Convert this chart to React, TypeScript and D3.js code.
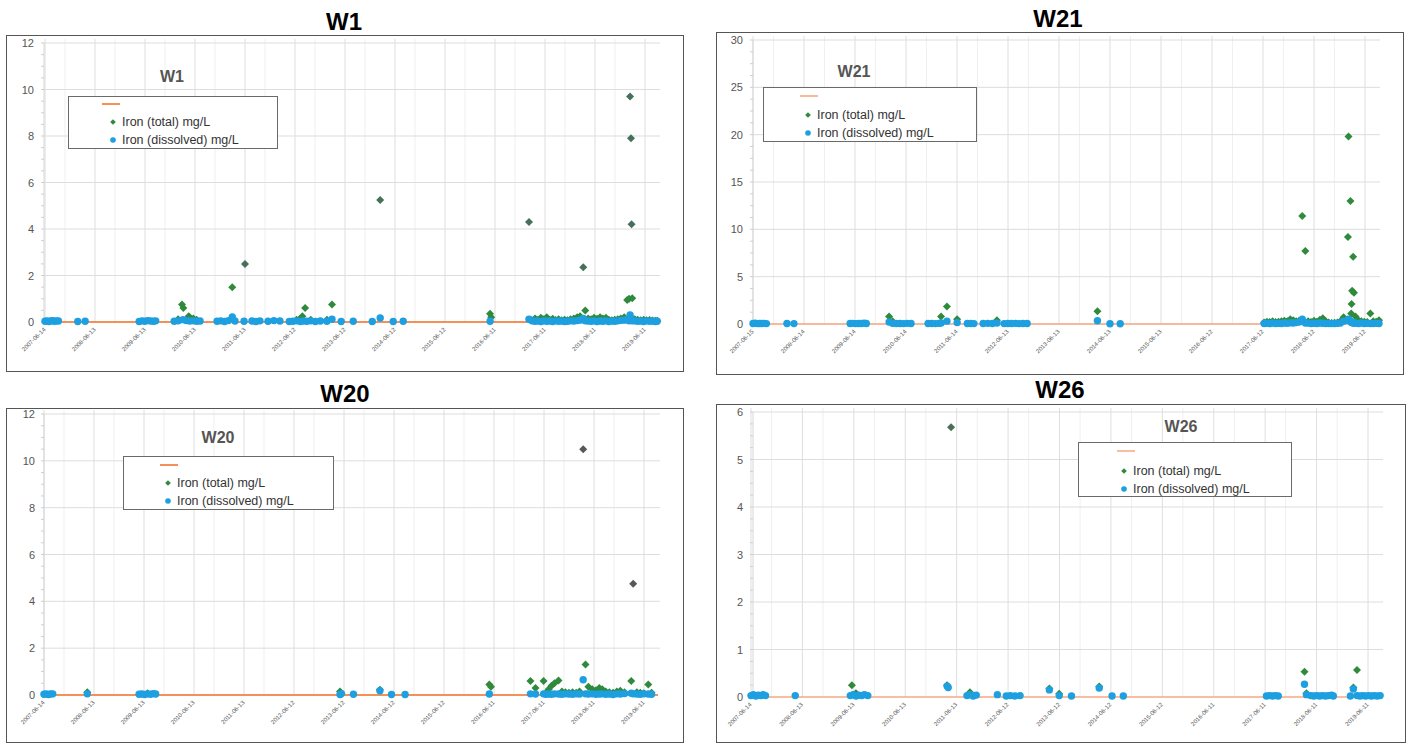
import React from "react";
import * as d3 from "d3";

type Pt = [string, number];

// ---------- tick labels ----------
const ticksA = ["2007-06-14","2008-06-13","2009-06-13","2010-06-13","2011-06-13","2012-06-12","2013-06-12","2014-06-12","2015-06-12","2016-06-11","2017-06-11","2018-06-11","2019-06-11"];
const ticksB = ["2007-06-15","2008-06-14","2009-06-14","2010-06-14","2011-06-14","2012-06-13","2013-06-13","2014-06-13","2015-06-13","2016-06-12","2017-06-12","2018-06-12","2019-06-12"];
const yTicksW1 = [0, 2, 4, 6, 8, 10, 12];
const yTicksW21 = [0, 5, 10, 15, 20, 25, 30];
const yTicksW20 = [0, 2, 4, 6, 8, 10, 12];
const yTicksW26 = [0, 1, 2, 3, 4, 5, 6];
const seriesNames = ["Iron (total) mg/L", "Iron (dissolved) mg/L"];

// ---------- W1 ----------
const w1Dissolved: Pt[] = [
  ["2007-06-14",0.03],["2007-06-28",0.05],["2007-07-12",0.02],["2007-07-26",0.04],["2007-08-09",0.06],["2007-08-23",0.03],["2007-09-06",0.05],["2007-09-20",0.04],
  ["2008-02-08",0.02],["2008-04-02",0.03],
  ["2009-05-01",0.02],["2009-05-22",0.05],["2009-06-12",0.03],["2009-07-03",0.06],["2009-07-24",0.04],["2009-08-14",0.03],["2009-08-30",0.05],
  ["2010-01-12",0.03],["2010-02-10",0.05],["2010-03-17",0.1],["2010-04-10",0.06],["2010-05-05",0.04],["2010-06-01",0.05],["2010-06-25",0.03],["2010-07-20",0.04],
  ["2010-11-21",0.03],["2010-12-18",0.05],["2011-01-15",0.02],["2011-02-12",0.06],["2011-03-12",0.22],["2011-04-01",0.04],["2011-06-06",0.03],
  ["2011-08-03",0.04],["2011-09-01",0.02],["2011-09-30",0.05],["2011-11-28",0.03],["2012-01-10",0.06],["2012-02-23",0.04],
  ["2012-05-01",0.02],["2012-05-28",0.03],["2012-06-24",0.05],["2012-07-21",0.02],["2012-08-12",0.04],["2012-09-07",0.03],["2012-10-05",0.05],["2012-11-08",0.02],["2012-12-14",0.04],
  ["2013-01-31",0.03],["2013-03-09",0.12],["2013-05-15",0.02],["2013-08-11",0.03],["2013-12-28",0.02],["2014-02-24",0.17],["2014-05-30",0.02],["2014-08-11",0.03],
  ["2016-05-06",0.03],
  ["2017-02-14",0.12],["2017-03-08",0.05],["2017-03-30",0.03],["2017-04-20",0.04],["2017-05-12",0.02],["2017-06-02",0.05],["2017-06-24",0.03],["2017-07-15",0.04],
  ["2017-08-06",0.02],["2017-08-28",0.05],["2017-09-18",0.03],["2017-10-10",0.04],["2017-11-01",0.02],["2017-11-22",0.03],["2017-12-14",0.05],["2018-01-08",0.04],
  ["2018-02-01",0.06],["2018-02-22",0.08],["2018-03-17",0.15],["2018-04-01",0.05],["2018-04-22",0.04],["2018-05-14",0.03],["2018-06-04",0.05],["2018-06-26",0.02],
  ["2018-07-18",0.04],["2018-08-08",0.03],["2018-08-30",0.05],["2018-09-20",0.02],["2018-10-12",0.04],["2018-11-02",0.03],["2018-11-24",0.05],["2018-12-16",0.07],
  ["2019-01-10",0.08],["2019-02-01",0.1],["2019-02-15",0.05],["2019-02-22",0.3],["2019-03-01",0.15],["2019-03-10",0.05],["2019-03-28",0.05],["2019-04-18",0.03],
  ["2019-05-10",0.04],["2019-06-01",0.02],["2019-06-22",0.05],["2019-07-14",0.03],["2019-08-04",0.04],["2019-08-25",0.02],["2019-09-08",0.03],
];
const w1Total: Pt[] = [
  ["2010-02-10",0.12],["2010-03-10",0.75],["2010-03-20",0.6],["2010-04-28",0.25],["2010-05-05",0.2],["2010-06-01",0.15],["2010-06-25",0.1],
  ["2011-03-12",1.5],["2011-06-13",2.5],["2012-06-24",0.1],["2012-07-21",0.15],["2012-08-05",0.25],["2012-08-25",0.6],["2012-10-05",0.1],
  ["2013-01-31",0.1],["2013-03-09",0.75],["2014-02-24",5.25],["2016-05-06",0.35],["2016-05-14",0.2],
  ["2017-02-14",4.3],["2017-03-08",0.08],["2017-03-30",0.15],["2017-04-20",0.1],["2017-05-12",0.18],["2017-06-02",0.12],["2017-06-24",0.2],["2017-07-15",0.1],
  ["2017-08-06",0.14],["2017-08-28",0.09],["2017-09-18",0.12],["2017-10-10",0.08],["2017-11-01",0.1],["2017-11-22",0.07],["2017-12-14",0.12],["2018-01-08",0.15],
  ["2018-02-01",0.2],["2018-02-22",0.25],["2018-03-17",2.35],["2018-04-01",0.5],["2018-04-22",0.15],["2018-05-14",0.12],["2018-06-04",0.18],["2018-06-26",0.14],
  ["2018-07-18",0.2],["2018-08-08",0.15],["2018-08-30",0.18],["2018-09-20",0.1],["2018-10-12",0.08],["2018-11-02",0.1],["2018-11-24",0.12],["2018-12-16",0.15],
  ["2019-01-10",0.2],["2019-02-01",0.95],["2019-02-15",1.0],["2019-02-22",9.7],["2019-03-01",7.9],["2019-03-05",4.2],["2019-03-10",1.02],["2019-03-28",0.12],
  ["2019-04-18",0.1],["2019-05-10",0.08],["2019-06-01",0.1],["2019-06-22",0.07],["2019-07-14",0.09],["2019-08-04",0.06],["2019-08-25",0.05],["2019-09-08",0.05],
];

// ---------- W21 ----------
const w21Dissolved: Pt[] = [
  ["2007-06-15",0.05],["2007-07-01",0.08],["2007-07-17",0.04],["2007-08-02",0.06],["2007-08-18",0.05],["2007-09-03",0.07],["2007-09-19",0.04],
  ["2008-02-13",0.05],["2008-04-03",0.04],
  ["2009-05-10",0.05],["2009-05-30",0.07],["2009-06-19",0.04],["2009-07-09",0.06],["2009-07-29",0.05],["2009-08-18",0.08],["2009-09-03",0.05],
  ["2010-02-13",0.2],["2010-03-10",0.08],["2010-04-05",0.05],["2010-05-01",0.06],["2010-05-27",0.04],["2010-06-22",0.07],["2010-07-20",0.05],
  ["2010-11-19",0.05],["2010-12-15",0.06],["2011-01-10",0.04],["2011-02-05",0.07],["2011-02-20",0.1],["2011-04-03",0.3],["2011-06-15",0.15],
  ["2011-08-27",0.05],["2011-09-20",0.06],["2011-10-13",0.04],["2011-12-18",0.05],["2012-01-20",0.07],["2012-02-22",0.05],["2012-03-26",0.1],
  ["2012-05-16",0.04],["2012-06-12",0.06],["2012-07-08",0.05],["2012-08-04",0.07],["2012-08-31",0.04],["2012-09-28",0.06],["2012-10-28",0.05],
  ["2014-03-15",0.35],["2014-06-13",0.02],["2014-08-25",0.02],
  ["2017-06-20",0.05],["2017-07-10",0.08],["2017-07-30",0.05],["2017-08-20",0.1],["2017-09-10",0.06],["2017-10-01",0.08],["2017-10-22",0.05],["2017-11-12",0.1],
  ["2017-12-03",0.08],["2017-12-24",0.12],["2018-01-14",0.1],["2018-02-04",0.15],["2018-02-25",0.2],["2018-03-20",0.5],["2018-04-11",0.1],["2018-05-01",0.1],
  ["2018-05-22",0.05],["2018-06-12",0.08],["2018-07-03",0.05],["2018-07-24",0.1],["2018-08-14",0.08],["2018-09-04",0.05],["2018-09-25",0.04],["2018-10-16",0.06],
  ["2018-11-06",0.05],["2018-11-27",0.07],["2018-12-18",0.1],["2019-01-10",0.3],["2019-02-10",0.4],["2019-02-14",0.5],["2019-02-28",0.3],["2019-03-05",0.2],
  ["2019-03-08",0.15],["2019-03-12",0.2],["2019-03-19",0.1],["2019-03-25",0.1],["2019-04-05",0.08],["2019-04-26",0.05],["2019-05-17",0.1],["2019-06-07",0.05],
  ["2019-06-28",0.08],["2019-07-20",0.06],["2019-08-10",0.05],["2019-08-31",0.07],["2019-09-20",0.05],
];
const w21Total: Pt[] = [
  ["2010-02-13",0.8],["2010-03-10",0.3],["2011-02-20",0.8],["2011-04-03",1.85],["2011-06-15",0.5],["2012-03-26",0.4],["2014-03-15",1.35],
  ["2017-06-20",0.15],["2017-07-10",0.25],["2017-07-30",0.2],["2017-08-20",0.3],["2017-09-10",0.2],["2017-10-01",0.25],["2017-10-22",0.3],["2017-11-12",0.35],
  ["2017-12-03",0.3],["2017-12-24",0.5],["2018-01-14",0.4],["2018-02-04",0.3],["2018-02-25",0.35],["2018-03-20",11.4],["2018-04-11",7.7],["2018-05-01",0.3],
  ["2018-05-22",0.2],["2018-06-12",0.35],["2018-07-03",0.25],["2018-07-24",0.45],["2018-08-14",0.6],["2018-09-04",0.3],["2018-09-25",0.15],["2018-10-16",0.1],
  ["2018-11-06",0.12],["2018-11-27",0.15],["2018-12-18",0.3],["2019-01-10",0.7],["2019-02-10",9.2],["2019-02-14",19.8],["2019-02-28",13.0],["2019-03-05",1.1],
  ["2019-03-08",2.1],["2019-03-12",3.5],["2019-03-19",7.1],["2019-03-25",3.3],["2019-04-05",0.8],["2019-04-26",0.4],["2019-05-17",0.3],["2019-06-07",0.25],
  ["2019-06-28",0.2],["2019-07-20",1.1],["2019-08-10",0.3],["2019-08-31",0.25],["2019-09-20",0.4],
];

// ---------- W20 ----------
const w20Dissolved: Pt[] = [
  ["2007-06-14",0.03],["2007-06-30",0.05],["2007-07-16",0.02],["2007-08-01",0.04],["2007-08-17",0.05],
  ["2008-04-25",0.05],
  ["2009-05-08",0.03],["2009-05-28",0.04],["2009-06-18",0.02],["2009-07-09",0.05],["2009-07-30",0.03],["2009-08-20",0.06],["2009-09-06",0.04],
  ["2013-05-14",0.02],["2013-05-24",0.06],["2013-08-20",0.03],["2014-03-01",0.18],["2014-05-25",0.02],["2014-09-01",0.02],["2016-05-08",0.04],
  ["2017-03-04",0.05],["2017-04-10",0.04],["2017-06-08",0.05],["2017-06-25",0.03],["2017-07-15",0.04],["2017-08-05",0.03],["2017-08-26",0.05],["2017-09-25",0.04],
  ["2017-10-20",0.03],["2017-11-15",0.05],["2017-12-10",0.04],["2018-01-05",0.03],["2018-02-01",0.05],["2018-02-25",0.04],["2018-03-24",0.65],["2018-04-10",0.05],
  ["2018-05-01",0.04],["2018-05-29",0.05],["2018-06-25",0.03],["2018-07-20",0.04],["2018-08-10",0.05],["2018-09-05",0.03],["2018-10-01",0.04],["2018-10-28",0.02],
  ["2018-11-25",0.05],["2018-12-20",0.04],["2019-01-20",0.06],["2019-03-10",0.08],["2019-03-24",0.05],["2019-04-20",0.04],["2019-05-15",0.03],["2019-06-10",0.05],
  ["2019-07-12",0.04],["2019-08-05",0.03],
];
const w20Total: Pt[] = [
  ["2008-04-25",0.12],["2009-07-09",0.08],["2013-05-14",0.15],["2013-05-24",0.08],["2014-03-01",0.22],["2016-05-08",0.45],["2016-05-20",0.35],
  ["2017-03-04",0.6],["2017-04-10",0.3],["2017-06-08",0.6],["2017-06-25",0.1],["2017-07-15",0.25],["2017-08-05",0.4],["2017-08-26",0.5],["2017-09-25",0.62],
  ["2017-10-20",0.15],["2017-11-15",0.12],["2017-12-10",0.1],["2018-01-05",0.12],["2018-02-01",0.1],["2018-02-25",0.15],["2018-03-24",10.5],["2018-04-10",1.3],
  ["2018-05-01",0.35],["2018-05-29",0.25],["2018-06-25",0.2],["2018-07-20",0.3],["2018-08-10",0.25],["2018-09-05",0.15],["2018-10-01",0.12],["2018-10-28",0.1],
  ["2018-11-25",0.15],["2018-12-20",0.18],["2019-01-20",0.12],["2019-03-10",0.6],["2019-03-24",4.75],["2019-04-20",0.12],["2019-05-15",0.1],["2019-06-10",0.08],
  ["2019-07-12",0.45],["2019-08-05",0.1],
];

// ---------- W26 ----------
const w26Dissolved: Pt[] = [
  ["2007-06-14",0.03],["2007-07-01",0.05],["2007-07-18",0.02],["2007-08-05",0.04],["2007-08-22",0.03],["2007-09-08",0.05],["2007-09-25",0.03],
  ["2008-04-23",0.03],
  ["2009-05-19",0.03],["2009-06-08",0.05],["2009-06-28",0.02],["2009-07-18",0.04],["2009-08-07",0.03],["2009-08-27",0.05],["2009-09-20",0.03],
  ["2011-04-06",0.23],["2011-04-14",0.2],["2011-08-25",0.03],["2011-09-15",0.05],["2011-10-08",0.02],["2011-10-30",0.04],
  ["2012-03-28",0.05],["2012-05-30",0.02],["2012-06-28",0.03],["2012-07-30",0.02],["2012-09-05",0.03],
  ["2013-04-01",0.15],["2013-06-10",0.03],["2013-09-05",0.02],["2014-03-21",0.19],["2014-06-20",0.02],["2014-09-08",0.02],
  ["2017-06-20",0.02],["2017-07-12",0.03],["2017-08-02",0.02],["2017-08-22",0.03],["2017-09-12",0.02],
  ["2018-03-17",0.27],["2018-03-31",0.05],["2018-05-01",0.03],["2018-05-22",0.02],["2018-06-12",0.03],["2018-07-03",0.02],["2018-07-24",0.03],["2018-08-14",0.02],
  ["2018-09-04",0.03],["2018-09-25",0.04],["2018-10-08",0.02],
  ["2019-02-06",0.02],["2019-02-27",0.17],["2019-03-25",0.03],["2019-04-15",0.02],["2019-05-05",0.03],["2019-05-25",0.02],["2019-06-15",0.03],["2019-07-05",0.02],
  ["2019-07-25",0.03],["2019-08-15",0.02],["2019-09-05",0.03],
];
const w26Total: Pt[] = [
  ["2009-05-30",0.25],["2009-06-28",0.08],["2011-04-06",0.25],["2011-05-04",5.68],["2011-09-15",0.1],["2013-04-01",0.18],["2013-06-10",0.07],["2014-03-21",0.22],
  ["2018-03-17",0.53],["2018-03-31",0.08],["2019-02-27",0.2],["2019-03-25",0.57],
];

// ---------- layout (styles/positions, not data) ----------
interface Cfg {
  title: string; titleX: number; titleY: number;
  frame: [number, number, number, number];
  left: number; right: number; yTop: number; y0: number;
  x0: number; x12: number; yLabelX: number;
  legend: { x: number; y: number; w: number; h: number; tx: number; ty: number; lx: number; ly: number; sx: number; t1: number; t2: number };
  zeroColor: string; hiColor: string; hiThreshold: number;
}

const cfgW1: Cfg = {
  title: "W1", titleX: 344, titleY: 30, frame: [6, 35, 677, 336],
  left: 44, right: 660, yTop: 43, y0: 322, x0: 45, x12: 645, yLabelX: 34,
  legend: { x: 68, y: 96, w: 209, h: 52, tx: 172, ty: 82, lx: 102, ly: 104, sx: 113, t1: 126, t2: 144 },
  zeroColor: "#f26d21", hiColor: "#46705a", hiThreshold: 2.2,
};
const cfgW21: Cfg = {
  title: "W21", titleX: 1058, titleY: 27, frame: [716, 32, 687, 342],
  left: 753, right: 1380, yTop: 40, y0: 324, x0: 753, x12: 1365, yLabelX: 743,
  legend: { x: 763, y: 87, w: 213, h: 54, tx: 854, ty: 77, lx: 800, ly: 96, sx: 808, t1: 119, t2: 137 },
  zeroColor: "#f5a27a", hiColor: "#2e7d3c", hiThreshold: 100,
};
const cfgW20: Cfg = {
  title: "W20", titleX: 345, titleY: 402, frame: [6, 408, 677, 334],
  left: 44, right: 660, yTop: 414, y0: 695, x0: 44, x12: 644, yLabelX: 35,
  legend: { x: 123, y: 456, w: 210, h: 53, tx: 218, ty: 443, lx: 160, ly: 465, sx: 168, t1: 487, t2: 505 },
  zeroColor: "#f26d21", hiColor: "#555a56", hiThreshold: 2.2,
};
const cfgW26: Cfg = {
  title: "W26", titleX: 1060, titleY: 398, frame: [716, 404, 689, 338],
  left: 753, right: 1383, yTop: 412, y0: 697, x0: 751, x12: 1368, yLabelX: 743,
  legend: { x: 1078, y: 442, w: 213, h: 54, tx: 1181, ty: 432, lx: 1117, ly: 451, sx: 1124, t1: 475, t2: 493 },
  zeroColor: "#f7a882", hiColor: "#4a6e56", hiThreshold: 2.2,
};

const GREEN = "#2f8a3c";
const BLUE = "#1d9fe0";
const FONT = "'Liberation Sans', Arial, Helvetica, sans-serif";
const parse = d3.timeParse("%Y-%m-%d");

const diamond = (cx: number, cy: number, r: number) =>
  `M${cx},${cy - r}L${cx + r},${cy}L${cx},${cy + r}L${cx - r},${cy}Z`;

function Panel({ cfg, ticks, yTicks, total, dissolved }: { cfg: Cfg; ticks: string[]; yTicks: number[]; total: Pt[]; dissolved: Pt[] }) {
  const tickDates = ticks.map((t) => parse(t) as Date);
  const x = d3.scaleTime().domain([tickDates[0], tickDates[tickDates.length - 1]]).range([cfg.x0, cfg.x12]);
  const ymax = yTicks[yTicks.length - 1];
  const y = d3.scaleLinear().domain([0, ymax]).range([cfg.y0, cfg.yTop]);
  const step = yTicks[1] - yTicks[0];
  const minor = d3.range(0, ymax + 1e-9, step / 4);
  const [fx, fy, fw, fh] = cfg.frame;
  const L = cfg.legend;
  return (
    <g>
      <text x={cfg.titleX} y={cfg.titleY} textAnchor="middle" fontFamily={FONT} fontWeight="bold" fontSize={24} fill="#000">{cfg.title}</text>
      <rect x={fx + 0.5} y={fy + 0.5} width={fw} height={fh} fill="#fff" stroke="#555" strokeWidth={1} />
      {/* vertical grid */}
      {tickDates.map((d, i) => (
        <line key={"vg" + i} x1={x(d)} x2={x(d)} y1={cfg.yTop - 4} y2={cfg.y0} stroke="#dedede" strokeWidth={1} />
      ))}
      {tickDates.slice(0, -1).map((d, i) => {
        const m = x(d3.timeDay.offset(d, 146));
        return <line key={"vm" + i} x1={m} x2={m} y1={cfg.yTop - 4} y2={cfg.y0} stroke="#efefef" strokeWidth={1} />;
      })}
      {/* horizontal grid */}
      {yTicks.slice(1).map((v) => (
        <line key={"hg" + v} x1={cfg.left} x2={cfg.right} y1={y(v)} y2={y(v)} stroke="#dddddd" strokeWidth={1} />
      ))}
      {/* y axis */}
      <line x1={cfg.left} x2={cfg.left} y1={cfg.yTop} y2={cfg.y0} stroke="#d6d6d6" />
      {minor.map((v, i) => (
        <line key={"mt" + i} x1={cfg.left - 3} x2={cfg.left} y1={y(v)} y2={y(v)} stroke="#cfcfcf" />
      ))}
      {yTicks.map((v) => (
        <text key={"yl" + v} x={cfg.yLabelX} y={y(v) + 4} textAnchor="end" fontFamily={FONT} fontSize={11} fill="#555">{v}</text>
      ))}
      {/* x labels */}
      {tickDates.map((d, i) => (
        <text key={"xl" + i} transform={`translate(${x(d) + 1},${cfg.y0 + 8}) rotate(-45)`} textAnchor="end" fontFamily={FONT} fontSize={6} fill="#555">{ticks[i]}</text>
      ))}
      {/* zero line */}
      <line x1={cfg.left} x2={cfg.right - 2} y1={y(0)} y2={y(0)} stroke={cfg.zeroColor} strokeWidth={1.6} />
      {/* total (green diamonds) */}
      {total.map(([d, v], i) => (
        <path key={"t" + i} d={diamond(x(parse(d) as Date), y(v), 4)} fill={v > cfg.hiThreshold ? cfg.hiColor : GREEN} />
      ))}
      {/* dissolved (blue circles) */}
      {dissolved.map(([d, v], i) => (
        <circle key={"d" + i} cx={x(parse(d) as Date)} cy={y(v)} r={3.7} fill={BLUE} />
      ))}
      {/* legend */}
      <text x={L.tx} y={L.ty} textAnchor="middle" fontFamily={FONT} fontWeight="bold" fontSize={16} fill="#555">{cfg.title}</text>
      <rect x={L.x + 0.5} y={L.y + 0.5} width={L.w} height={L.h} fill="#fff" stroke="#6a6a6a" strokeWidth={1} />
      <line x1={L.lx} x2={L.lx + 18} y1={L.ly} y2={L.ly} stroke={cfg.zeroColor} strokeWidth={1.5} />
      <path d={diamond(L.sx, L.t1 - 4, 2.8)} fill={GREEN} />
      <text x={L.sx + 9} y={L.t1} fontFamily={FONT} fontSize={12.5} fill="#333">{seriesNames[0]}</text>
      <circle cx={L.sx} cy={L.t2 - 4} r={2.8} fill={BLUE} />
      <text x={L.sx + 9} y={L.t2} fontFamily={FONT} fontSize={12.5} fill="#333">{seriesNames[1]}</text>
    </g>
  );
}

export default function App() {
  return (
    <svg width={1413} height={744} style={{ position: "absolute", left: 0, top: 0, background: "#fff" }}>
      <rect x={0} y={0} width={1413} height={744} fill="#fff" />
      <Panel cfg={cfgW1} ticks={ticksA} yTicks={yTicksW1} total={w1Total} dissolved={w1Dissolved} />
      <Panel cfg={cfgW21} ticks={ticksB} yTicks={yTicksW21} total={w21Total} dissolved={w21Dissolved} />
      <Panel cfg={cfgW20} ticks={ticksA} yTicks={yTicksW20} total={w20Total} dissolved={w20Dissolved} />
      <Panel cfg={cfgW26} ticks={ticksA} yTicks={yTicksW26} total={w26Total} dissolved={w26Dissolved} />
    </svg>
  );
}
